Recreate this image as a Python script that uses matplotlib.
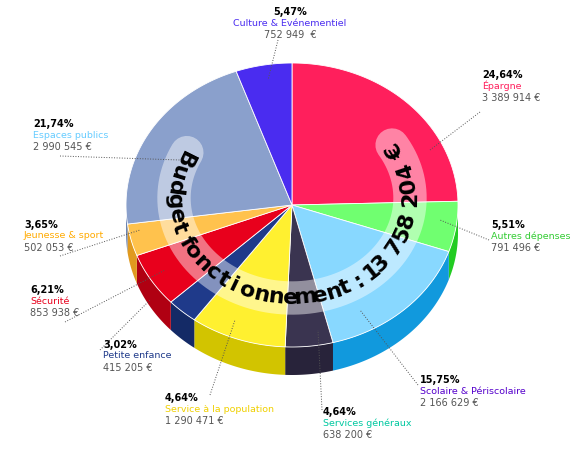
import numpy as np
import matplotlib.pyplot as plt

# Données (sens horaire depuis midi)
labels = ["Épargne", "Autres dépenses", "Scolaire & Périscolaire", "Services généraux",
          "Service à la population", "Petite enfance", "Sécurité", "Jeunesse & sport",
          "Espaces publics", "Culture & Evénementiel"]
values = [3389914, 791496, 2166629, 638200, 1290471, 415205, 853938, 502053, 2990545, 752949]
pct_labels = ["24,64%", "5,51%", "15,75%", "4,64%", "4,64%", "3,02%", "6,21%", "3,65%", "21,74%", "5,47%"]
val_labels = ["3 389 914 €", "791 496 €", "2 166 629 €", "638 200 €", "1 290 471 €",
              "415 205 €", "853 938 €", "502 053 €", "2 990 545 €", "752 949  €"]
top_colors = ["#ff1f5c", "#70ff70", "#88d8ff", "#3a3450", "#fff030", "#1f3a8a",
              "#e8001c", "#ffc24d", "#8aa0cc", "#4a2cf0"]
side_colors = ["#c8104a", "#22cc22", "#1199dd", "#28233a", "#d2c400", "#142a66",
               "#b00012", "#e09a20", "#6a84b4", "#3418c0"]
name_colors = ["#ff1f5c", "#33cc33", "#5500cc", "#00c8a0", "#f0d000", "#1f3a8a",
               "#e8001c", "#ffaa00", "#66ccff", "#4a2cf0"]
# position du texte (x, y, alignement) et trait de rappel
label_pos = [(482, 75, "left"), (491, 225, "left"), (420, 380, "left"), (323, 412, "left"),
             (165, 398, "left"), (103, 345, "left"), (30, 290, "left"), (24, 225, "left"),
             (33, 124, "left"), (290, 12, "center")]
leaders = [((480, 112), (430, 150)), ((489, 240), (440, 220)), ((418, 385), (360, 310)),
           ((322, 410), (318, 330)), ((210, 395), (235, 320)), ((100, 350), (150, 300)),
           ((65, 322), (165, 270)), ((60, 256), (140, 230)), ((60, 156), (180, 160)),
           ((278, 40), (268, 80))]
title_text = "Budget fonctionnement : 13 758 204 €"

cx, cy, rx, ry, depth = 292, 205, 166, 142, 28

fig = plt.figure(figsize=(5.71, 4.5), dpi=100)
ax = fig.add_axes([0, 0, 1, 1])
ax.set_xlim(0, 571)
ax.set_ylim(450, 0)
ax.axis("off")


def pt(t, a=rx, b=ry):
    return cx + a * np.sin(t), cy - b * np.cos(t)


fracs = np.array(values) / sum(values)
bounds = np.concatenate([[0], np.cumsum(fracs)]) * 2 * np.pi

# faces latérales
for i in range(len(values)):
    t0, t1 = max(bounds[i], np.pi / 2), min(bounds[i + 1], 3 * np.pi / 2)
    if t1 <= t0:
        continue
    t = np.linspace(t0, t1, 60)
    x, y = pt(t)
    ax.fill(np.concatenate([x, x[::-1]]), np.concatenate([y, y[::-1] + depth]),
            color=side_colors[i], lw=0)
# faces supérieures
for i in range(len(values)):
    t = np.linspace(bounds[i], bounds[i + 1], 80)
    x, y = pt(t)
    ax.fill(np.concatenate([[cx], x]), np.concatenate([[cy], y]),
            color=top_colors[i], ec="white", lw=0.6)

# texte courbe
ta, tb, tcy = 118, 100, 198
t_start, t_end = np.radians(297), np.radians(58)
tt = np.linspace(t_start, t_end, 300)
ax.plot(cx + ta * np.sin(tt), tcy - tb * np.cos(tt), color="white", alpha=0.45,
        lw=24, solid_capstyle="round")
# longueur d'arc pour espacer les lettres régulièrement
dense = np.linspace(t_start, t_end, 2000)
seg = np.hypot(np.diff(ta * np.sin(dense)), np.diff(tb * np.cos(dense)))
arc = np.concatenate([[0], np.cumsum(seg)])
w = np.array([0.45 if c == " " else (0.6 if c in "ft:1" else 1.0) for c in title_text])
pos = (np.cumsum(w) - w / 2) / w.sum()
for c, p in zip(title_text, pos):
    t = np.interp(p * arc[-1], arc, dense)
    x, y = cx + ta * np.sin(t), tcy - tb * np.cos(t)
    rot = np.degrees(np.arctan2(tb * np.sin(t), -ta * np.cos(t)))
    ax.text(x, y, c, rotation=rot, ha="center", va="center", fontsize=16,
            fontweight="bold", color="black", rotation_mode="anchor")

# étiquettes
for i in range(len(values)):
    x, y, ha = label_pos[i]
    ax.text(x, y, pct_labels[i], fontsize=7, fontweight="bold", ha=ha, va="center")
    ax.text(x, y + 11, labels[i], fontsize=6.8, color=name_colors[i], ha=ha, va="center")
    ax.text(x, y + 23, val_labels[i], fontsize=7, color="#555555", ha=ha, va="center")
    (x0, y0), (x1, y1) = leaders[i]
    ax.plot([x0, x1], [y0, y1], color="#555555", lw=0.7, ls=":")

fig.savefig("out.png", dpi=100)
